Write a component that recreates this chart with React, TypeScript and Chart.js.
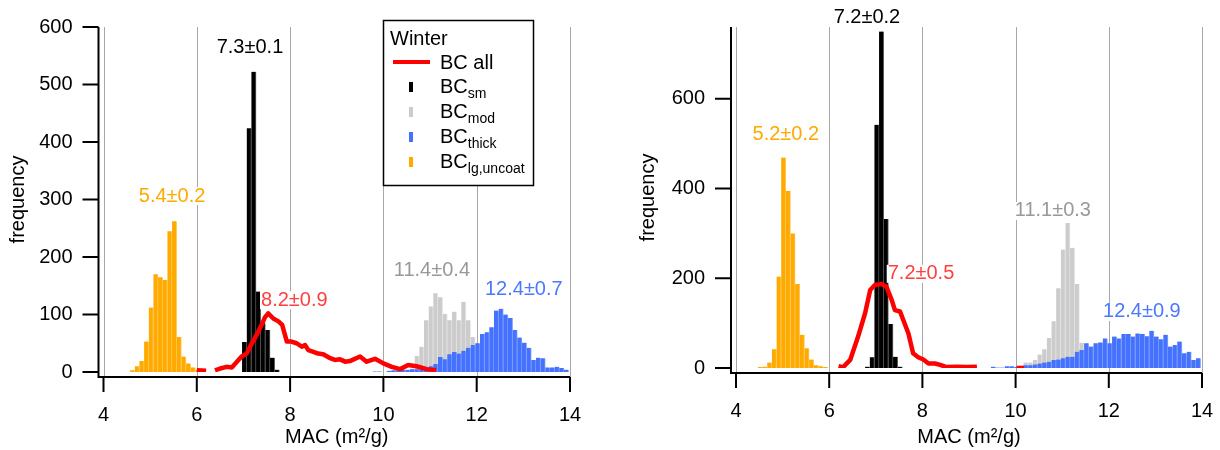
import React, { useEffect, useRef } from "react";
import { Chart, registerables } from "chart.js";

Chart.register(...registerables);

const FONT = "'Liberation Sans', Arial, Helvetica, sans-serif";
const BIN = 0.1;

// ---------------- Left panel (Winter) ----------------
const L_xTicks = [4, 6, 8, 10, 12, 14];
const L_yTicks = [0, 100, 200, 300, 400, 500, 600];
const L_yMax = 600;

const L_orangeStart = 4.62;
const L_orange = [3, 10, 19, 53, 112, 170, 165, 160, 245, 262, 61, 27, 15, 8, 4];

const L_blackStart = 7.02;
const L_black = [52, 424, 522, 140, 85, 73, 25, 4];

const L_grayStart = 10.62;
const L_gray = [6, 28, 44, 90, 114, 137, 130, 101, 90, 105, 90, 122, 90, 61, 6];

const L_blueStart = 9.82;
const L_blue = [1, 1, 0, 2, 3, 3, 4, 4, 5, 5, 6, 8, 10, 14, 26, 22, 31, 35, 32, 37, 42, 47, 50, 66, 69, 78, 107, 110, 100, 94, 73, 60, 51, 42, 21, 25, 24, 8, 8, 9, 7, 4];

const L_redX = [6.0, 6.2, 6.3, 6.39, 6.5, 6.64, 6.75, 6.86, 6.96, 7.07, 7.18, 7.28, 7.39, 7.46, 7.53, 7.64, 7.75, 7.83, 7.93, 8.03, 8.14, 8.25, 8.32, 8.39, 8.5, 8.6, 8.71, 8.86, 8.96, 9.07, 9.18, 9.28, 9.5, 9.64, 9.82, 10.0, 10.18, 10.36, 10.53, 10.71, 10.93, 11.13];
const L_redY = [3, 2, null, 3, 6, 9, 8, 18, 27, 32, 50, 64, 82, 95, 102, 93, 88, 82, 53, 53, 50, 44, 47, 38, 35, 32, 31, 24, 21, 22, 18, 19, 27, 18, 23, 15, 9, 5, 12, 10, 5, 3];

const L_labels = [
  { text: "7.3±0.1", x: 7.14, y: 565, color: "#000000" },
  { text: "5.4±0.2", x: 5.47, y: 306, color: "#ffaa00" },
  { text: "8.2±0.9", x: 8.09, y: 125, color: "#ff4040" },
  { text: "11.4±0.4", x: 11.04, y: 177, color: "#999999" },
  { text: "12.4±0.7", x: 13.01, y: 143, color: "#4a78ff" },
];

// ---------------- Right panel ----------------
const R_xTicks = [4, 6, 8, 10, 12, 14];
const R_yTicks = [0, 200, 400, 600];
const R_yMax = 760;

const R_orangeStart = 4.52;
const R_orange = [2, 3, 12, 42, 204, 469, 395, 300, 187, 74, 44, 19, 6, 4, 2];

const R_blackStart = 6.82;
const R_black = [3, 24, 542, 750, 332, 98, 25, 3];

const R_grayStart = 10.22;
const R_gray = [12, 12, 18, 30, 42, 67, 104, 178, 264, 323, 268, 187, 56, 20, 5];

const R_blueStart = 9.52;
const R_blue = [3, 1, 1, 4, 4, 2, 5, 6, 6, 8, 10, 12, 14, 18, 19, 22, 25, 25, 36, 40, 55, 48, 55, 57, 66, 55, 70, 66, 76, 76, 70, 77, 76, 71, 83, 70, 64, 74, 48, 51, 59, 33, 36, 18, 22];

const R_redX = [6.2, 6.3, 6.45, 6.62, 6.77, 6.88, 6.98, 7.13, 7.23, 7.34, 7.41, 7.52, 7.59, 7.7, 7.8, 7.91, 8.02, 8.13, 8.27, 8.38, 8.52, 8.74, 8.95, 9.17, 9.6, 10.02, 10.18];
const R_redY = [4, 2, 18, 70, 122, 174, 185, 187, 181, 152, 129, 126, 107, 77, 33, 24, 19, 10, 10, 7, 2, 3, 2, 3, null, 0, 0];

const R_labels = [
  { text: "7.2±0.2", x: 6.81, y: 781, color: "#000000" },
  { text: "5.2±0.2", x: 5.07, y: 520, color: "#ffaa00" },
  { text: "7.2±0.5", x: 7.97, y: 210, color: "#ff4040" },
  { text: "11.1±0.3", x: 10.8, y: 350, color: "#999999" },
  { text: "12.4±0.9", x: 12.71, y: 125, color: "#4a78ff" },
];

// Legend entries
const legendTitle = "Winter";
const legendEntries = [
  { main: "BC", sub: "sm", color: "#000000" },
  { main: "BC", sub: "mod", color: "#cccccc" },
  { main: "BC", sub: "thick", color: "#4472ff" },
  { main: "BC", sub: "lg,uncoat", color: "#ffaa00" },
];

function bins(start: number, counts: number[]) {
  return counts.map((c, i) => ({ x: Math.round((start + i * BIN) * 100) / 100, y: c }));
}
function line(xs: number[], ys: (number | null)[]) {
  return xs.map((x, i) => ({ x, y: ys[i] }));
}

const igorPlugin = {
  id: "igor",
  beforeDatasetsDraw(chart: any) {
    const { ctx, chartArea: ca, scales } = chart;
    const x = scales.x;
    const ay = ca.bottom + 5;
    ctx.save();
    ctx.strokeStyle = "#a8a8a8";
    ctx.lineWidth = 1;
    x.ticks.forEach((t: any) => {
      const px = Math.round(x.getPixelForValue(t.value)) + 0.5;
      ctx.beginPath();
      ctx.moveTo(px, ca.top);
      ctx.lineTo(px, ay);
      ctx.stroke();
    });
    ctx.restore();
  },
  afterDatasetsDraw(chart: any, _args: any, opts: any) {
    const { ctx, chartArea: ca, scales } = chart;
    const x = scales.x;
    const y = scales.y;
    const ax = ca.left - 5;
    const ay = ca.bottom + 5;
    ctx.save();
    ctx.strokeStyle = "#000";
    ctx.lineWidth = 2;
    ctx.beginPath();
    ctx.moveTo(ax, ca.top);
    ctx.lineTo(ax, ay);
    ctx.lineTo(x.getPixelForValue(x.max), ay);
    ctx.stroke();
    ctx.beginPath();
    y.ticks.forEach((t: any) => {
      const py = y.getPixelForValue(t.value);
      ctx.moveTo(ax - 16, py);
      ctx.lineTo(ax, py);
    });
    x.ticks.forEach((t: any) => {
      const px = x.getPixelForValue(t.value);
      ctx.moveTo(px, ay);
      ctx.lineTo(px, ay + 15);
    });
    ctx.stroke();

    // value labels with white background
    ctx.font = `20px ${FONT}`;
    ctx.textAlign = "center";
    ctx.textBaseline = "middle";
    (opts.labels || []).forEach((l: any) => {
      const px = x.getPixelForValue(l.x);
      const py = y.getPixelForValue(l.y);
      const w = ctx.measureText(l.text).width;
      ctx.fillStyle = "#ffffff";
      ctx.fillRect(px - w / 2 - 1, py - 9, w + 2, 18);
      ctx.fillStyle = l.color;
      ctx.fillText(l.text, px, py);
    });

    if (opts.legend) {
      const bx = 383.5, by = 20.5, bw = 150, bh = 165;
      ctx.fillStyle = "#ffffff";
      ctx.fillRect(bx, by, bw, bh);
      ctx.lineWidth = 1.5;
      ctx.strokeStyle = "#000";
      ctx.strokeRect(bx, by, bw, bh);
      ctx.textAlign = "left";
      ctx.textBaseline = "alphabetic";
      ctx.fillStyle = "#000";
      ctx.font = `20px ${FONT}`;
      ctx.fillText(legendTitle, 390, 45);
      ctx.strokeStyle = "#ff0000";
      ctx.lineWidth = 4;
      ctx.beginPath();
      ctx.moveTo(393, 62);
      ctx.lineTo(430, 62);
      ctx.stroke();
      ctx.fillStyle = "#000";
      ctx.fillText("BC all", 440, 69);
      legendEntries.forEach((e, i) => {
        const cy = 86 + i * 25;
        ctx.fillStyle = e.color;
        ctx.fillRect(409, cy - 4, 4, 10);
        ctx.fillStyle = "#000";
        ctx.font = `20px ${FONT}`;
        ctx.fillText(e.main, 440, cy + 7);
        const w = ctx.measureText(e.main).width;
        ctx.font = `14px ${FONT}`;
        ctx.fillText(e.sub, 440 + w, cy + 12);
      });
    }
    ctx.restore();
  },
};

function makeConfig(p: any) {
  const barBase = {
    type: "bar",
    grouped: false,
    barPercentage: 1,
    categoryPercentage: 1,
    borderWidth: { top: 0, left: 0, bottom: 0, right: 1 },
    borderSkipped: false,
  };
  return {
    type: "bar",
    data: {
      datasets: [
        {
          type: "line",
          label: "BC all",
          data: line(p.redX, p.redY),
          borderColor: "#ff0000",
          borderWidth: 4.5,
          pointRadius: 0,
          tension: 0,
          spanGaps: false,
          borderJoinStyle: "round",
        },
        { ...barBase, label: "BC thick", data: bins(p.blueStart, p.blue), backgroundColor: "#4472ff", borderColor: "#86a2ff" },
        { ...barBase, label: "BC mod", data: bins(p.grayStart, p.gray), backgroundColor: "#cccccc", borderColor: "#e8e8e8" },
        { ...barBase, label: "BC sm", data: bins(p.blackStart, p.black), backgroundColor: "#000000", borderColor: "#606060" },
        { ...barBase, label: "BC lg,uncoat", data: bins(p.orangeStart, p.orange), backgroundColor: "#ffaa00", borderColor: "#ffcc66" },
      ],
    },
    options: {
      animation: false,
      responsive: false,
      devicePixelRatio: 1,
      layout: { padding: p.padding },
      plugins: {
        legend: { display: false },
        tooltip: { enabled: false },
        igor: { labels: p.labels, legend: p.legend },
      },
      scales: {
        x: {
          type: "linear",
          min: 4,
          max: 14,
          offset: false,
          afterBuildTicks: (s: any) => {
            s.ticks = p.xTicks.map((v: number) => ({ value: v }));
          },
          ticks: { color: "#000", font: { size: 20, family: FONT }, padding: 23, maxRotation: 0, autoSkip: false },
          grid: { display: false, offset: false },
          border: { display: false },
          title: { display: true, text: "MAC (m²/g)", color: "#000", font: { size: 20, family: FONT }, padding: 0 },
          afterFit: (s: any) => {
            s.height = p.xHeight;
            s.paddingLeft = 0;
            s.paddingRight = 0;
          },
        },
        y: {
          type: "linear",
          min: 0,
          max: p.yMax,
          offset: false,
          afterBuildTicks: (s: any) => {
            s.ticks = p.yTicks.map((v: number) => ({ value: v }));
          },
          ticks: { color: "#000", font: { size: 20, family: FONT }, padding: 23, autoSkip: false },
          grid: { display: false },
          border: { display: false },
          title: { display: true, text: "frequency", color: "#000", font: { size: 20, family: FONT }, padding: 0 },
          afterFit: (s: any) => {
            s.width = p.yWidth;
            s.paddingTop = 0;
            s.paddingBottom = 0;
          },
        },
      },
    },
    plugins: [igorPlugin],
  };
}

function Panel(props: { p: any; left: number }) {
  const ref = useRef<HTMLCanvasElement | null>(null);
  useEffect(() => {
    if (!ref.current) return;
    const chart = new Chart(ref.current, makeConfig(props.p) as any);
    return () => chart.destroy();
  }, []);
  return (
    <canvas
      ref={ref}
      width={610}
      height={450}
      style={{ position: "absolute", left: props.left, top: 0, width: 610, height: 450 }}
    />
  );
}

const leftPanel = {
  xTicks: L_xTicks, yTicks: L_yTicks, yMax: L_yMax,
  orangeStart: L_orangeStart, orange: L_orange,
  blackStart: L_blackStart, black: L_black,
  grayStart: L_grayStart, gray: L_gray,
  blueStart: L_blueStart, blue: L_blue,
  redX: L_redX, redY: L_redY,
  labels: L_labels, legend: true,
  padding: { left: 6, right: 40, top: 27, bottom: 1 },
  yWidth: 97.5, xHeight: 77,
};

const rightPanel = {
  xTicks: R_xTicks, yTicks: R_yTicks, yMax: R_yMax,
  orangeStart: R_orangeStart, orange: R_orange,
  blackStart: R_blackStart, black: R_black,
  grayStart: R_grayStart, gray: R_gray,
  blueStart: R_blueStart, blue: R_blue,
  redX: R_redX, redY: R_redY,
  labels: R_labels, legend: false,
  padding: { left: 26, right: 18, top: 27, bottom: 1 },
  yWidth: 100, xHeight: 81,
};

export default function App() {
  return (
    <div style={{ position: "fixed", left: 0, top: 0, width: 1220, height: 450, background: "#ffffff" }}>
      <Panel p={leftPanel} left={0} />
      <Panel p={rightPanel} left={610} />
    </div>
  );
}
